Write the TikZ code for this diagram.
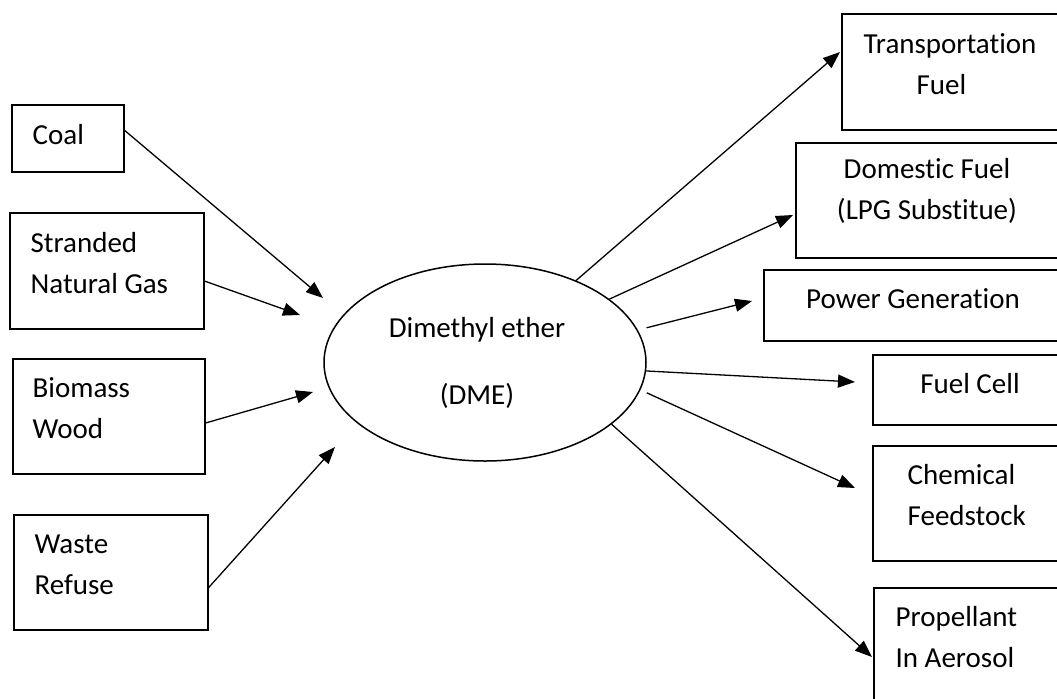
\documentclass[tikz,border=0pt]{standalone}
\usepackage{fontspec}
\setmainfont{Carlito}[Ligatures={NoCommon,NoContextual}]
\usetikzlibrary{positioning,shapes.geometric,arrows.meta}

\begin{document}
\begin{tikzpicture}[x=0.5pt,y=-0.5pt,
  line width=0.65pt,
  box/.style={draw,rectangle,anchor=north west,inner sep=0pt,line width=0.75pt},
  lbl/.style={anchor=west,align=left,inner sep=0pt,font=\fontsize{14.5}{20.5}\selectfont},
  clbl/.style={lbl,anchor=center,align=center},
  flow/.style={-{Triangle[length=8.5pt,width=6.5pt]}}
]
\clip (0,0) rectangle (1057,698);

% the feedstocks
\node[box,minimum width=56pt,minimum height=33.5pt] (coal) at (11,104) {};
\node[box,minimum width=97pt,minimum height=58pt] (gas) at (9,212) {};
\node[box,minimum width=96pt,minimum height=57.5pt] (bio) at (12,358) {};
\node[box,minimum width=97pt,minimum height=57.5pt] (waste) at (13,514) {};
\node[lbl] (coal-t) at (32,135) {Coal};
\node[lbl] (gas-t) at (30,263) {Stranded\\Natural Gas};
\node[lbl] (bio-t) at (32,408) {Biomass\\Wood};
\node[lbl] (waste-t) at (34,565) {Waste\\Refuse};

% the DME
\node[draw,ellipse,minimum width=161pt,minimum height=98.5pt,inner sep=0pt,
  line width=0.75pt] (dme) at (485,362.5) {};
\node[clbl] (dme-t) at (477,363) {Dimethyl ether\\[13pt](DME)};

% the uses
\node[box,minimum width=114.5pt,minimum height=58pt] (trans) at (841,13) {};
\node[box,minimum width=137.5pt,minimum height=57.5pt] (dom) at (795,142) {};
\node[box,minimum width=153.5pt,minimum height=35.5pt] (pow) at (763,269) {};
\node[box,minimum width=99pt,minimum height=35pt] (cell) at (872,354) {};
\node[box,minimum width=99pt,minimum height=57.5pt] (chem) at (872,445) {};
\node[box,minimum width=98.5pt,minimum height=65pt] (prop) at (873,587) {};
\node[lbl] (trans-t) at (863,64) {Transportation\\\hspace{26.5pt}Fuel};
\node[clbl] (dom-t) at (927,191) {Domestic Fuel\\(LPG Substitue)};
\node[clbl] (pow-t) at (913,299) {Power Generation};
\node[clbl] (cell-t) at (970,384) {Fuel Cell};
\node[lbl] (chem-t) at (907,495) {Chemical\\Feedstock};
\node[lbl] (prop-t) at (895,637) {Propellant\\In Aerosol};

% the arrow ends
\coordinate (coal-in) at (323,298);
\coordinate (gas-in) at (300,315);
\coordinate (bio-in) at (313,392);
\coordinate (waste-in) at (335,447);
\coordinate (trans-in) at (840,52);
\coordinate (dom-in) at (793,215);
\coordinate (pow-in) at (752,301);
\coordinate (cell-in) at (855,382);
\coordinate (chem-in) at (855,488);
\coordinate (prop-in) at (872,657);

% the edges
\draw[flow] (coal.8) -- (coal-in);
\draw[flow] (gas.-6) -- (gas-in);
\draw[flow] (bio.-4) -- (bio-in);
\draw[flow] (waste.-9) -- (waste-in);
\draw[flow] (dme.42) -- (trans-in);
\draw[flow] (dme.27) -- (dom-in);
\draw[flow,shorten <=4.5pt] (dme.12) -- (pow-in);
\draw[flow] (dme.-3) -- (cell-in);
\draw[flow,shorten <=3.5pt] (dme.-10) -- (chem-in);
\draw[flow] (dme.-26) -- (prop-in);
\end{tikzpicture}
\end{document}
